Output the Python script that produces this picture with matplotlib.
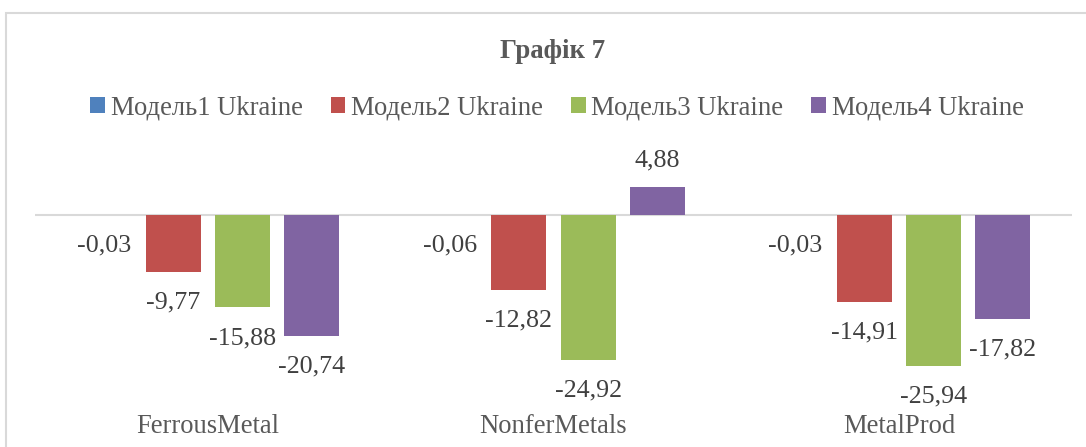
import matplotlib.pyplot as plt
from matplotlib.patches import Rectangle
import numpy as np

plt.rcParams['font.family'] = 'serif'
plt.rcParams['font.serif'] = ['Liberation Serif', 'DejaVu Serif']

# data
categories = ['FerrousMetal', 'NonferMetals', 'MetalProd']
series_names = ['Модель1 Ukraine', 'Модель2 Ukraine', 'Модель3 Ukraine', 'Модель4 Ukraine']
model1 = [-0.03, -0.06, -0.03]
model2 = [-9.77, -12.82, -14.91]
model3 = [-15.88, -24.92, -25.94]
model4 = [-20.74, 4.88, -17.82]
colors = ['#4f81bd', '#c0504d', '#9bbb59', '#8064a2']

W, H = 1086, 447
fig = plt.figure(figsize=(W / 100, H / 100), dpi=100)

# chart frame (Excel style)
fig.patches.append(Rectangle((6 / W, -0.1), 1.2, 1 - 13 / H + 0.1, transform=fig.transFigure,
                             fill=False, edgecolor='#d9d9d9', linewidth=1.5))

# plot area: x 35..1072 px, y 140..400 px
ax = fig.add_axes([35 / W, 47 / H, 1037 / W, 260 / H])
ax.set_facecolor('none')

x = np.arange(len(categories))
all_series = [model1, model2, model3, model4]
offsets = [-0.3, -0.1, 0.1, 0.3]
for vals, name, col, off in zip(all_series, series_names, colors, offsets):
    bars = ax.bar(x + off, vals, 0.159, color=col, label=name, zorder=2)
    for b, v in zip(bars, vals):
        dy = 19 if v > 0 else -22
        ax.annotate(f'{v:.2f}'.replace('.', ','), (b.get_x() + b.get_width() / 2, v),
                    xytext=(0, dy), textcoords='offset points', ha='center', va='center',
                    fontsize=18.7, color='#404040')

ax.axhline(0, color='#d9d9d9', linewidth=1.5, zorder=1)
ax.set_xlim(-0.5, 2.5)
ax.set_ylim(-(400 - 215) / 5.82, (215 - 140) / 5.82)
ax.set_yticks([])
ax.set_xticks(x)
ax.set_xticklabels(categories, fontsize=19.2, color='#595959')
ax.tick_params(axis='x', length=0, pad=10)
for s in ax.spines.values():
    s.set_visible(False)

fig.text(553 / W, 1 - 51 / H, 'Графік 7', ha='center', va='center',
         fontsize=19.3, fontweight='bold', color='#595959')

fig.legend(loc='center', bbox_to_anchor=(557 / W, 1 - 108 / H), ncol=4, frameon=False,
           fontsize=19.2, labelcolor='#595959', handlelength=0.55, handleheight=0.55,
           handletextpad=0.22, columnspacing=1.05, borderpad=0)

fig.savefig('out.png', dpi=100)
